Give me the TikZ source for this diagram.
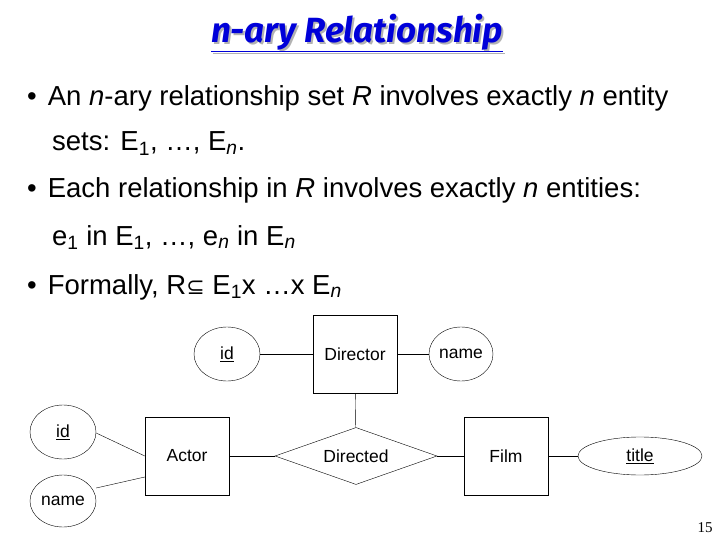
\documentclass[tikz,border=0pt]{standalone}
\usepackage{fontspec}
\setmainfont{Liberation Sans}
\newfontfamily\sym{DejaVu Sans}
\newfontfamily\titlefont{Fira Sans}
\newfontfamily\pgfont{Liberation Serif}
\usetikzlibrary{shapes.geometric}
\begin{document}
\begin{tikzpicture}[x=1pt,y=-1pt,
  ent/.style={draw,minimum width=84pt,minimum height=78pt,inner sep=0pt,font=\fontsize{17.5}{20}\selectfont},
  attr/.style={draw,ellipse,inner sep=0pt,font=\fontsize{17.5}{20}\selectfont},
  txt/.style={anchor=base west,inner sep=0pt,font=\fontsize{27.5}{30}\selectfont}]
\useasboundingbox (0,0) rectangle (720,540);
\node[inner sep=0pt,font=\titlefont\fontsize{35}{38}\selectfont\bfseries\itshape] (title) at (357,34)
  {\rlap{\raisebox{-2pt}{\hspace{2pt}\textcolor{gray!60}{\underline{n-ary Relationship}}}}\textcolor{blue!85!black}{\underline{n-ary Relationship}}};
\node[txt] (b1) at (27,106) {•\hspace{11pt}An \textit{n}-ary relationship set \textit{R} involves exactly \textit{n} entity};
\node[txt] (l2) at (52,151) {sets: E\textsubscript{1}, …, E\textsubscript{\textit{n}}.};
\node[txt] (b2) at (27,198) {•\hspace{11pt}Each relationship in \textit{R} involves exactly \textit{n} entities:};
\node[txt] (l4) at (52,245) {e\textsubscript{1} in E\textsubscript{1}, …, e\textsubscript{\textit{n}} in E\textsubscript{\textit{n}}};
\node[txt] (b3) at (27,294) {•\hspace{11pt}Formally, R{\sym\fontsize{22}{24}\selectfont⊆} E\textsubscript{1}x …x E\textsubscript{\textit{n}}};
\node[ent] (dir) at (355,354) {Director};
\node[ent] (act) at (187,456) {Actor};
\node[ent] (film) at (506,456) {Film};
\node[draw,diamond,aspect=2.85,minimum width=162pt,minimum height=57pt,inner sep=0pt,font=\fontsize{17.5}{20}\selectfont] (rel) at (356,456) {Directed};
\node[attr,minimum width=66pt,minimum height=54pt] (did) at (227,354) {\underline{id}};
\node[attr,minimum width=64pt,minimum height=54pt] (dname) at (461,354) {name};
\node[attr,minimum width=66pt,minimum height=54pt] (aid) at (63,432) {\underline{id}};
\node[attr,minimum width=66pt,minimum height=52pt] (aname) at (63,501) {name};
\node[attr,minimum width=124pt,minimum height=38pt] (ftitle) at (640,456) {\underline{title}};
\draw (did) -- (dir);
\draw (dir) -- (dname);
\draw (dir) -- (rel);
\draw (act) -- (rel);
\draw (rel) -- (film);
\draw (film) -- (ftitle);
\draw (aid.east) ++(0,1) -- (act.west |- 0,456);
\draw (aname.east) ++(0,-13) -- (act.west |- 0,477);
\node[inner sep=0pt,font=\pgfont\fontsize{15}{16}\selectfont] (pg) at (705,528) {15};
\end{tikzpicture}
\end{document}
